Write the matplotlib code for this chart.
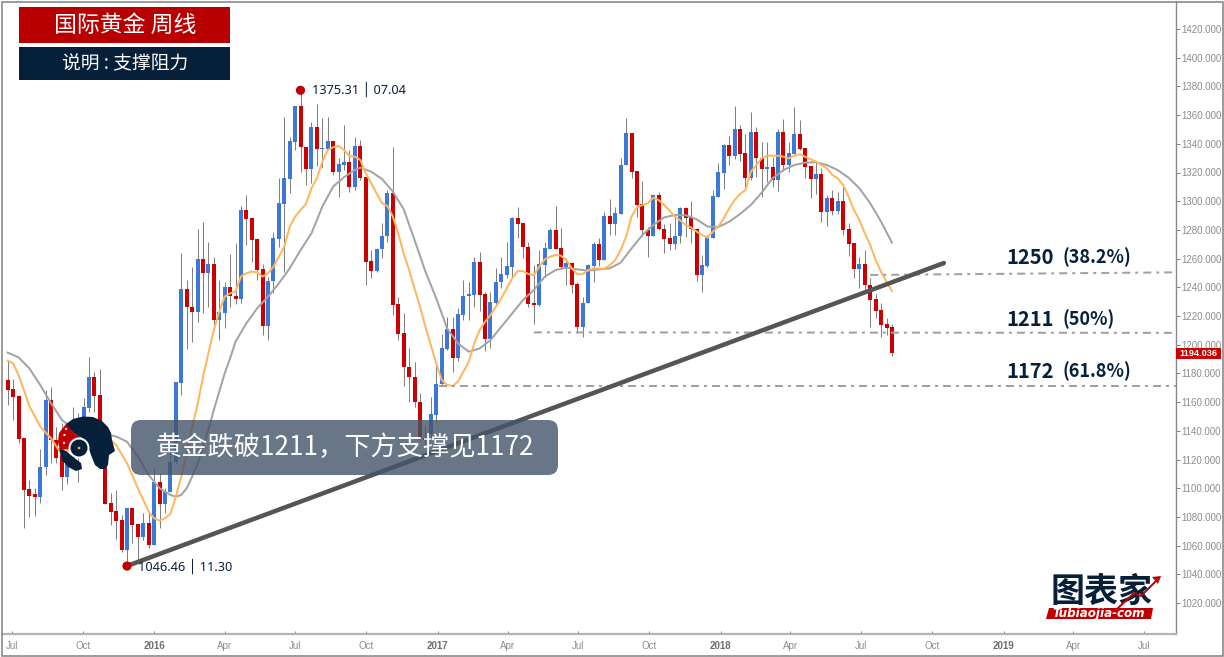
import matplotlib
matplotlib.use("Agg")
from matplotlib import pyplot as plt
from matplotlib.patches import Rectangle, FancyBboxPatch, Polygon, Circle
from matplotlib.lines import Line2D
import matplotlib.dates as mdates
import numpy as np
import pandas as pd

plt.rcParams["font.family"] = ["Noto Sans CJK SC", "DejaVu Sans"]

# weekly gold candles
opens = [1175.4, 1169.1, 1164.3, 1134.8, 1099.2, 1095.7, 1093.6, 1114.5, 1161.5, 1133.6,
         1124.3, 1107.6, 1119.7, 1135.9, 1142.9, 1155.7, 1177.3, 1164.7, 1128.9, 1089.5,
         1084.3, 1077.8, 1056.9, 1086.4, 1074.8, 1065.8, 1076.0, 1060.4, 1104.3, 1088.8,
         1097.6, 1118.5, 1173.6, 1238.6, 1226.5, 1222.8, 1259.8, 1250.2, 1256.0, 1217.2,
         1222.4, 1240.0, 1234.2, 1232.1, 1293.9, 1288.1, 1273.5, 1252.5, 1213.1, 1244.2,
         1273.7, 1298.1, 1315.7, 1341.5, 1366.6, 1337.6, 1322.2, 1351.5, 1336.6, 1336.4,
         1342.2, 1320.6, 1325.5, 1327.6, 1310.2, 1338.5, 1316.7, 1258.1, 1251.4, 1266.5,
         1275.8, 1305.5, 1228.1, 1207.9, 1184.7, 1177.7, 1160.3, 1135.0, 1137.8, 1151.0,
         1172.6, 1197.0, 1210.7, 1190.5, 1220.7, 1233.7, 1234.6, 1257.6, 1235.1, 1204.2,
         1229.3, 1243.4, 1248.8, 1254.4, 1288.3, 1284.5, 1268.3, 1228.8, 1227.4, 1255.5,
         1266.7, 1279.9, 1267.1, 1254.1, 1256.9, 1242.3, 1212.3, 1228.8, 1255.0, 1270.1,
         1259.0, 1289.7, 1284.1, 1291.3, 1325.0, 1347.3, 1321.0, 1297.8, 1279.9, 1276.0,
         1304.3, 1280.9, 1274.4, 1270.2, 1275.8, 1295.0, 1289.0, 1280.9, 1248.6, 1254.8,
         1274.4, 1303.2, 1319.9, 1339.2, 1331.5, 1350.3, 1333.4, 1316.2, 1348.2, 1330.1,
         1322.2, 1323.8, 1314.8, 1348.2, 1325.5, 1332.9, 1346.8, 1336.8, 1324.5, 1315.2,
         1319.0, 1292.5, 1302.2, 1293.4, 1300.1, 1280.4, 1270.6, 1252.5, 1256.2, 1241.6,
         1231.6, 1224.2, 1214.2, 1212.1]
closes = [1168.4, 1163.3, 1134.1, 1098.8, 1094.8, 1093.6, 1115.0, 1161.5, 1133.6, 1120.8,
          1107.6, 1124.3, 1135.9, 1142.9, 1156.8, 1177.3, 1164.3, 1128.9, 1089.0, 1083.7,
          1077.1, 1056.9, 1086.4, 1074.4, 1065.8, 1076.0, 1060.4, 1104.3, 1088.8, 1097.6,
          1118.5, 1173.8, 1238.6, 1226.1, 1222.8, 1259.8, 1250.2, 1256.0, 1217.2, 1222.8,
          1240.0, 1234.0, 1232.1, 1293.9, 1287.6, 1273.0, 1252.1, 1213.3, 1244.4, 1274.2,
          1298.5, 1316.0, 1342.0, 1366.6, 1337.6, 1322.2, 1351.5, 1336.4, 1337.1, 1342.2,
          1320.6, 1326.0, 1327.6, 1310.2, 1338.5, 1316.2, 1257.7, 1251.6, 1266.5, 1276.0,
          1305.5, 1227.7, 1207.4, 1184.2, 1177.2, 1159.8, 1135.0, 1133.6, 1151.7, 1172.6,
          1197.4, 1210.7, 1190.5, 1221.1, 1234.1, 1235.3, 1257.6, 1234.6, 1204.2, 1229.7,
          1243.9, 1249.2, 1254.8, 1288.3, 1284.1, 1267.8, 1228.3, 1227.9, 1256.0, 1267.1,
          1279.9, 1266.7, 1254.1, 1256.9, 1241.6, 1212.3, 1229.3, 1255.5, 1270.1, 1259.0,
          1289.7, 1284.1, 1291.7, 1325.2, 1347.3, 1320.6, 1297.3, 1279.9, 1276.0, 1304.3,
          1280.4, 1273.7, 1270.2, 1276.0, 1295.0, 1288.5, 1280.9, 1248.6, 1255.3, 1274.8,
          1303.6, 1320.4, 1339.2, 1331.5, 1350.3, 1333.1, 1316.2, 1348.2, 1329.9, 1322.2,
          1323.8, 1314.8, 1348.2, 1325.5, 1333.4, 1346.8, 1336.4, 1324.1, 1315.2, 1319.0,
          1292.5, 1302.2, 1293.4, 1300.1, 1279.9, 1270.2, 1252.8, 1256.2, 1241.6, 1231.2,
          1223.7, 1213.5, 1211.9, 1194.0]
highs = [1189.3, 1175.9, 1165.0, 1134.8, 1105.7, 1099.9, 1127.1, 1168.4, 1170.8, 1142.9,
         1145.2, 1142.9, 1156.8, 1152.2, 1162.6, 1191.7, 1181.2, 1182.8, 1131.3, 1096.4,
         1098.8, 1081.3, 1086.4, 1086.4, 1074.8, 1082.5, 1082.5, 1113.8, 1110.4, 1099.9,
         1135.9, 1174.2, 1264.2, 1245.1, 1254.0, 1280.4, 1285.3, 1271.4, 1261.4, 1245.1,
         1244.0, 1263.2, 1270.7, 1296.7, 1304.4, 1289.3, 1274.2, 1256.3, 1247.4, 1278.8,
         1316.0, 1358.9, 1344.5, 1366.6, 1375.7, 1338.0, 1355.5, 1367.8, 1357.8, 1358.9,
         1342.2, 1329.9, 1353.1, 1335.7, 1345.0, 1342.7, 1317.1, 1266.0, 1267.2, 1284.6,
         1307.8, 1338.0, 1233.4, 1221.8, 1197.4, 1188.1, 1166.1, 1144.0, 1163.6, 1185.8,
         1207.2, 1219.5, 1219.5, 1225.3, 1245.0, 1243.9, 1260.9, 1264.3, 1237.0, 1237.0,
         1253.6, 1261.3, 1271.3, 1288.7, 1296.2, 1284.5, 1271.8, 1255.5, 1266.0, 1271.8,
         1281.1, 1296.6, 1281.1, 1260.2, 1257.4, 1243.9, 1233.4, 1256.0, 1271.8, 1274.1,
         1292.7, 1301.3, 1295.7, 1329.8, 1357.7, 1347.3, 1321.0, 1314.0, 1282.2, 1304.3,
         1306.4, 1283.9, 1284.6, 1289.2, 1295.7, 1295.7, 1300.1, 1281.1, 1262.5, 1276.4,
         1307.8, 1326.4, 1339.9, 1345.4, 1366.6, 1353.1, 1346.8, 1362.2, 1351.9, 1341.5,
         1341.5, 1331.0, 1350.6, 1357.3, 1341.5, 1365.9, 1356.6, 1336.8, 1324.5, 1327.6,
         1322.9, 1304.3, 1307.8, 1306.6, 1310.1, 1284.6, 1270.6, 1261.4, 1266.0, 1246.2,
         1235.3, 1228.8, 1218.4, 1214.2]
lows = [1158.0, 1147.5, 1131.3, 1072.0, 1080.2, 1080.6, 1089.5, 1109.2, 1117.8, 1117.3,
        1098.8, 1102.9, 1117.3, 1104.6, 1138.2, 1153.3, 1153.3, 1126.6, 1089.0, 1074.4,
        1064.4, 1055.8, 1047.6, 1061.6, 1050.0, 1063.9, 1058.1, 1060.4, 1072.0, 1082.5,
        1097.6, 1117.8, 1165.0, 1197.0, 1202.1, 1216.1, 1221.9, 1226.5, 1211.4, 1203.3,
        1211.4, 1226.5, 1228.4, 1228.9, 1269.5, 1257.9, 1245.1, 1206.8, 1203.3, 1235.8,
        1268.4, 1250.9, 1305.5, 1335.7, 1320.6, 1311.3, 1312.5, 1324.6, 1322.9, 1336.4,
        1318.3, 1303.2, 1321.8, 1306.7, 1307.8, 1314.8, 1241.6, 1246.3, 1250.5, 1260.2,
        1271.8, 1220.7, 1203.2, 1171.2, 1160.3, 1156.8, 1132.9, 1128.7, 1133.6, 1146.3,
        1171.9, 1196.3, 1181.2, 1188.8, 1217.2, 1217.2, 1226.5, 1223.7, 1195.8, 1197.4,
        1226.9, 1239.3, 1246.2, 1247.4, 1274.1, 1260.2, 1226.0, 1214.4, 1226.9, 1247.4,
        1266.4, 1266.4, 1253.2, 1241.6, 1236.2, 1208.4, 1205.6, 1228.8, 1243.9, 1255.0,
        1259.0, 1276.4, 1276.4, 1290.8, 1325.0, 1315.9, 1288.7, 1275.7, 1260.9, 1276.0,
        1279.9, 1264.1, 1266.0, 1266.5, 1270.6, 1275.3, 1270.6, 1244.6, 1237.0, 1253.9,
        1274.1, 1302.7, 1308.5, 1325.0, 1329.6, 1328.3, 1310.1, 1314.8, 1316.6, 1303.2,
        1313.6, 1310.1, 1307.3, 1321.0, 1320.6, 1332.9, 1335.7, 1315.9, 1302.5, 1305.0,
        1285.3, 1282.7, 1290.4, 1290.9, 1276.2, 1262.0, 1246.2, 1239.3, 1238.1, 1212.1,
        1218.4, 1205.1, 1206.8, 1192.1]

# the two moving averages, read every couple of candles
slow_weeks = [0, 2, 4, 6, 8, 10, 12, 14, 16, 18, 20, 22, 24, 26, 28, 30, 31, 32, 33, 34, 35, 36, 37, 38, 39, 40, 41,
              42, 44, 46, 48, 50, 52, 54, 56, 58, 60, 62, 64, 65, 67, 69, 71, 73, 75, 77, 79, 81, 83, 85, 87, 89, 91,
              93, 95, 97, 99, 101, 103, 105, 107, 109, 111, 113, 115, 117, 119, 121, 123, 125, 127, 129, 131, 133,
              135, 137, 139, 141, 143, 145, 147, 149, 151, 153, 155, 157, 159, 161, 163]
slow_ma = [1194.5, 1191.2, 1183.5, 1171.9, 1159.2, 1147.5, 1141.7, 1139.4, 1138.2, 1137.8, 1136.0, 1132.4, 1122.0,
           1109.2, 1100.0, 1095.3, 1094.1, 1095.3, 1100.0, 1108.0, 1117.0, 1129.0, 1140.6, 1154.5, 1167.3, 1180.0,
           1190.5, 1202.1, 1214.9, 1225.4, 1233.5, 1242.8, 1253.3, 1266.0, 1277.6, 1296.2, 1310.2, 1316.7, 1321.8,
           1323.4, 1320.6, 1315.5, 1306.7, 1294.4, 1273.0, 1251.0, 1232.3, 1211.4, 1200.9, 1195.1, 1197.4, 1203.2,
           1212.5, 1221.8, 1231.2, 1238.1, 1247.4, 1252.0, 1253.7, 1252.5, 1251.6, 1252.5, 1253.2, 1257.2, 1267.1,
           1276.4, 1283.4, 1288.7, 1290.4, 1290.2, 1287.4, 1282.3, 1282.0, 1285.7, 1291.1, 1297.4, 1306.0, 1316.0,
           1321.7, 1325.2, 1326.9, 1327.1, 1325.2, 1321.7, 1316.4, 1309.0, 1298.5, 1285.7, 1271.1]
fast_weeks = [0, 1, 2, 3, 4, 6, 8, 10, 12, 14, 16, 18, 19, 20, 22, 24, 26, 27, 28, 29, 30, 31, 32, 33, 34, 35, 36, 37,
              38] + list(range(39, 164))
fast_ma = [1188.9, 1187.0, 1178.9, 1168.4, 1157.3, 1142.9, 1134.8, 1123.1, 1129.0, 1131.3, 1133.6, 1135.5, 1133.6,
           1130.1, 1117.3, 1099.9, 1083.7, 1079.0, 1077.4, 1079.0, 1082.0, 1094.1, 1108.0, 1124.3, 1142.9, 1158.0,
           1177.7, 1194.0, 1210.3, 1223.0, 1233.5, 1235.8, 1237.0, 1247.5, 1249.8, 1251.0, 1250.3, 1247.5, 1249.8,
           1254.4, 1261.4, 1268.4, 1282.3, 1289.3, 1293.9, 1298.1, 1309.0, 1316.0, 1327.6, 1335.7, 1337.6, 1338.5,
           1335.7, 1331.5, 1331.0, 1328.8, 1319.5, 1312.5, 1305.5, 1298.6, 1296.7, 1289.3, 1277.6, 1263.6, 1252.0,
           1239.3, 1226.5, 1212.5, 1199.8, 1187.0, 1175.4, 1171.9, 1171.2, 1174.2, 1181.2, 1188.1, 1200.9, 1210.2,
           1216.0, 1220.7, 1226.5, 1232.3, 1239.3, 1246.3, 1251.3, 1251.3, 1249.2, 1248.5, 1254.4, 1259.5, 1261.3,
           1262.5, 1262.0, 1259.0, 1253.2, 1249.2, 1249.2, 1252.0, 1253.2, 1253.0, 1253.0, 1255.5, 1259.0, 1266.0,
           1275.3, 1289.2, 1295.7, 1297.3, 1298.5, 1302.4, 1300.8, 1297.3, 1293.4, 1289.2, 1286.5, 1283.4, 1281.6,
           1278.8, 1276.5, 1274.6, 1278.8, 1282.3, 1288.1, 1295.0, 1300.8, 1305.0, 1307.8, 1320.6, 1325.2, 1329.9,
           1331.7, 1331.7, 1331.7, 1331.0, 1329.9, 1331.7, 1332.7, 1331.0, 1329.2, 1327.6, 1325.2, 1322.9, 1318.3,
           1315.9, 1311.3, 1303.2, 1293.9, 1286.9, 1277.6, 1269.5, 1259.0, 1250.9, 1243.9, 1237.4]

# support/resistance lines: start date, end date, start price, end price
fib_dates = [("2018-07-13", "2019-11-20"), ("2017-05-05", "2019-11-18"), ("2017-01-03", "2019-11-10")]
fib_prices = [(1248.6, 1250.9), (1208.6, 1208.2), (1171.2, 1171.2)]
trend_dates = ["2015-11-27", "2018-10-16"]
trend_prices = [1045.8, 1256.9]

tick_months = ["2015-07-01", "2015-10-01", "2016-01-01", "2016-04-01", "2016-07-01", "2016-10-01", "2017-01-01",
               "2017-04-01", "2017-07-01", "2017-10-01", "2018-01-01", "2018-04-01", "2018-07-01", "2018-10-01",
               "2019-01-01", "2019-04-01", "2019-07-01"]
tick_names = ["Jul", "Oct", "2016", "Apr", "Jul", "Oct", "2017", "Apr", "Jul", "Oct", "2018", "Apr", "Jul", "Oct",
              "2019", "Apr", "Jul"]
price_ticks = list(range(1020, 1421, 20))

RED = "#cc0000"
BLUE = "#3c78d8"
NAVY = "#06203a"
W, H = 1224, 657


def fx(x):
    return x / W


def fy(y):
    return 1 - y / H


def fig_text(x, y, s, **kw):
    kw.setdefault("ha", "left")
    kw.setdefault("va", "center")
    kw.setdefault("zorder", 30)
    fig.text(fx(x), fy(y), s, **kw)


def fig_rect(x0, y0, x1, y1, color, **kw):
    kw.setdefault("zorder", 20)
    fig.add_artist(Rectangle((fx(x0), fy(y1)), (x1 - x0) / W, (y1 - y0) / H, transform=fig.transFigure,
                             facecolor=color, edgecolor="none", **kw))


def fig_poly(points, color, zorder=22):
    fig.add_artist(Polygon([(fx(x), fy(y)) for x, y in points], closed=True, transform=fig.transFigure,
                           facecolor=color, edgecolor="none", zorder=zorder))


def fig_circle(x, y, r, color, zorder=23):
    # circle in pixels, figure transform would squash it
    fig.add_artist(Circle((x, H - y), r, transform=None, facecolor=color, edgecolor="none", zorder=zorder))


dates = pd.date_range("2015-06-26", periods=len(opens), freq="7D")
xs = mdates.date2num(dates)
px_per_day = 5.425 / 7
px = 1 / 100 * 72  # one pixel in points

fig = plt.figure(figsize=(W / 100, H / 100), dpi=100)
ax = fig.add_axes([fx(2), fy(634), (1176 - 2) / W, (634 - 2) / H])

ax.vlines(xs, lows, highs, color="#808080", lw=1 * px, zorder=2)
o = np.array(opens)
c = np.array(closes)
colors = [BLUE if b > a else RED for a, b in zip(o, c)]
ax.bar(xs, np.maximum(np.abs(c - o), 0.8), bottom=np.minimum(o, c), width=4 / px_per_day, color=colors, zorder=3)

ax.plot(xs[slow_weeks], slow_ma, color="#a3a3a3", lw=2 * px, zorder=4)
ax.plot(xs[fast_weeks], fast_ma, color="#ffb65c", lw=2 * px, zorder=5)

for (d0, d1), (p0, p1) in zip(fib_dates, fib_prices):
    ax.plot(pd.to_datetime([d0, d1]), [p0, p1], color="#a0a0a0", lw=2 * px, ls=(0, (4, 2.5, 1.5, 2.5)), zorder=6)
ax.plot(pd.to_datetime(trend_dates), trend_prices, color="#555555", lw=4.5 * px, solid_capstyle="round", zorder=7)

ax.set_xlim(xs[0] - 5.67 / px_per_day, xs[0] + (1176 - 7.67) / px_per_day)
ax.set_ylim(1420 - (634 - 29) / 1.435, 1420 + 27 / 1.435)

ax.yaxis.tick_right()
ax.set_yticks(price_ticks)
ax.set_yticklabels([f"{v}.000" for v in price_ticks], family="Liberation Sans", fontsize=7, color="#8c8c8c")
ax.tick_params(axis="y", length=3, width=0.7, color="#808080", pad=0.8)
ax.set_xticks(pd.to_datetime(tick_months))
ax.set_xticklabels(tick_names, family="Liberation Sans", fontsize=7, color="#8c8c8c")
ax.tick_params(axis="x", direction="in", length=2.5, width=0.7, color="#808080", pad=5)
for lab in ax.get_xticklabels():
    if lab.get_text().isdigit():
        lab.set_fontweight("bold")
        lab.set_color("#6e6e6e")

for side in ["top", "left"]:
    ax.spines[side].set_visible(False)
ax.spines["right"].set_color("#8a8a8a")
ax.spines["right"].set_linewidth(1.4 * px)
ax.spines["bottom"].set_color("#b4b4b4")
ax.spines["bottom"].set_linewidth(2.2 * px)

# outer frame
fig.add_artist(Rectangle((fx(1.5), fy(655.5)), (1222.5 - 1.5) / W, (655.5 - 1.5) / H, transform=fig.transFigure,
                         facecolor="none", edgecolor="#858585", lw=1.6 * px, zorder=40))

# title boxes
fig_rect(19, 7, 230, 43, "#b80000")
fig_text(125, 25.5, "国际黄金 周线", color="white", fontsize=16.5, ha="center")
fig_rect(19, 47, 230, 80, NAVY)
fig_text(125, 63.5, "说明 : 支撑阻力", color="white", fontsize=13.5, ha="center")

# high and low markers
fig_circle(300.5, 90.3, 4.6, "#c00000")
fig_circle(127, 566, 4.6, "#c00000")
fig_text(312, 89, "1375.31 │ 07.04", color=NAVY, fontsize=9.2, family=["Noto Sans", "DejaVu Sans"])
fig_text(138, 566, "1046.46 │ 11.30", color=NAVY, fontsize=9.2, family=["Noto Sans", "DejaVu Sans"])

# level labels
for y, level, pct in [(257, "1250", "(38.2%)"), (319.5, "1211", "(50%)"), (371, "1172", "(61.8%)")]:
    fig_text(1006, y, level, color=NAVY, fontsize=14.5, fontweight="bold")
    fig_text(1063, y, pct, color=NAVY, fontsize=13, fontweight="bold")

# last price tag
fig_rect(1176, 347.5, 1221, 358.5, "#cc0000", zorder=25)
fig_text(1198.5, 353, "1194.036", color="white", fontsize=6.6, fontweight="bold", family="Liberation Sans", ha="center")

# comment banner
fig.add_artist(FancyBboxPatch((131 + 10, H - 475 + 10), 427 - 20, 55 - 20, boxstyle="round,pad=10,rounding_size=10",
                              transform=None, facecolor="#44546a", edgecolor="none", alpha=0.8, zorder=21))
fig_text(156, 448, "黄金跌破1211，下方支撑见1172", color="white", fontsize=18.9)

# head logo
head = [(66, 424), (73, 419), (83, 416.5), (93, 417), (102, 421), (108, 427), (111, 433), (112, 440), (115, 451),
        (109, 455), (108, 465), (105, 469), (100, 469), (95, 465), (91, 455), (88, 446), (82, 438), (75, 434),
        (67, 427)]
jaw = [(59, 448), (66, 451), (73, 457), (81, 463), (82, 469), (76, 471), (68, 467), (62, 460)]
helmet = [(59, 433), (66, 424), (75, 434), (85, 441), (76, 441), (70, 449), (60, 450), (58, 442)]
fig_poly(head, NAVY)
fig_poly(jaw, NAVY)
fig_poly(helmet, "#c00000")
fig_circle(79, 448, 10.5, "white", zorder=23)
fig_circle(79, 448, 8.5, NAVY, zorder=24)
fig_circle(79, 448, 1.3, "#f0b060", zorder=25)
fig_circle(64.5, 435, 1.1, "white", zorder=25)
fig_circle(64, 443, 1.1, "white", zorder=25)
fig_circle(66, 429, 1.1, "white", zorder=25)

# brand logo
fig_text(1102, 591, "图表家", color=NAVY, fontsize=24.5, fontweight="bold", ha="center")
fig_poly([(1049, 608), (1153, 608), (1151, 619), (1046, 619)], "#c00000")
fig_text(1099, 613.5, "Tubiaojia-com", color="white", fontsize=8.6, fontweight="bold", style="italic",
         family="DejaVu Sans", ha="center")
fig.add_artist(Line2D([fx(1118), fx(1134), fx(1141), fx(1147), fx(1158)], [fy(608), fy(593), fy(596), fy(590), fy(579)],
                      transform=fig.transFigure, color="#c00000", lw=2 * px, zorder=31))
fig_poly([(1161, 576), (1152, 577), (1158, 584)], "#c00000", zorder=31)

plt.savefig("out.png", dpi=100)
